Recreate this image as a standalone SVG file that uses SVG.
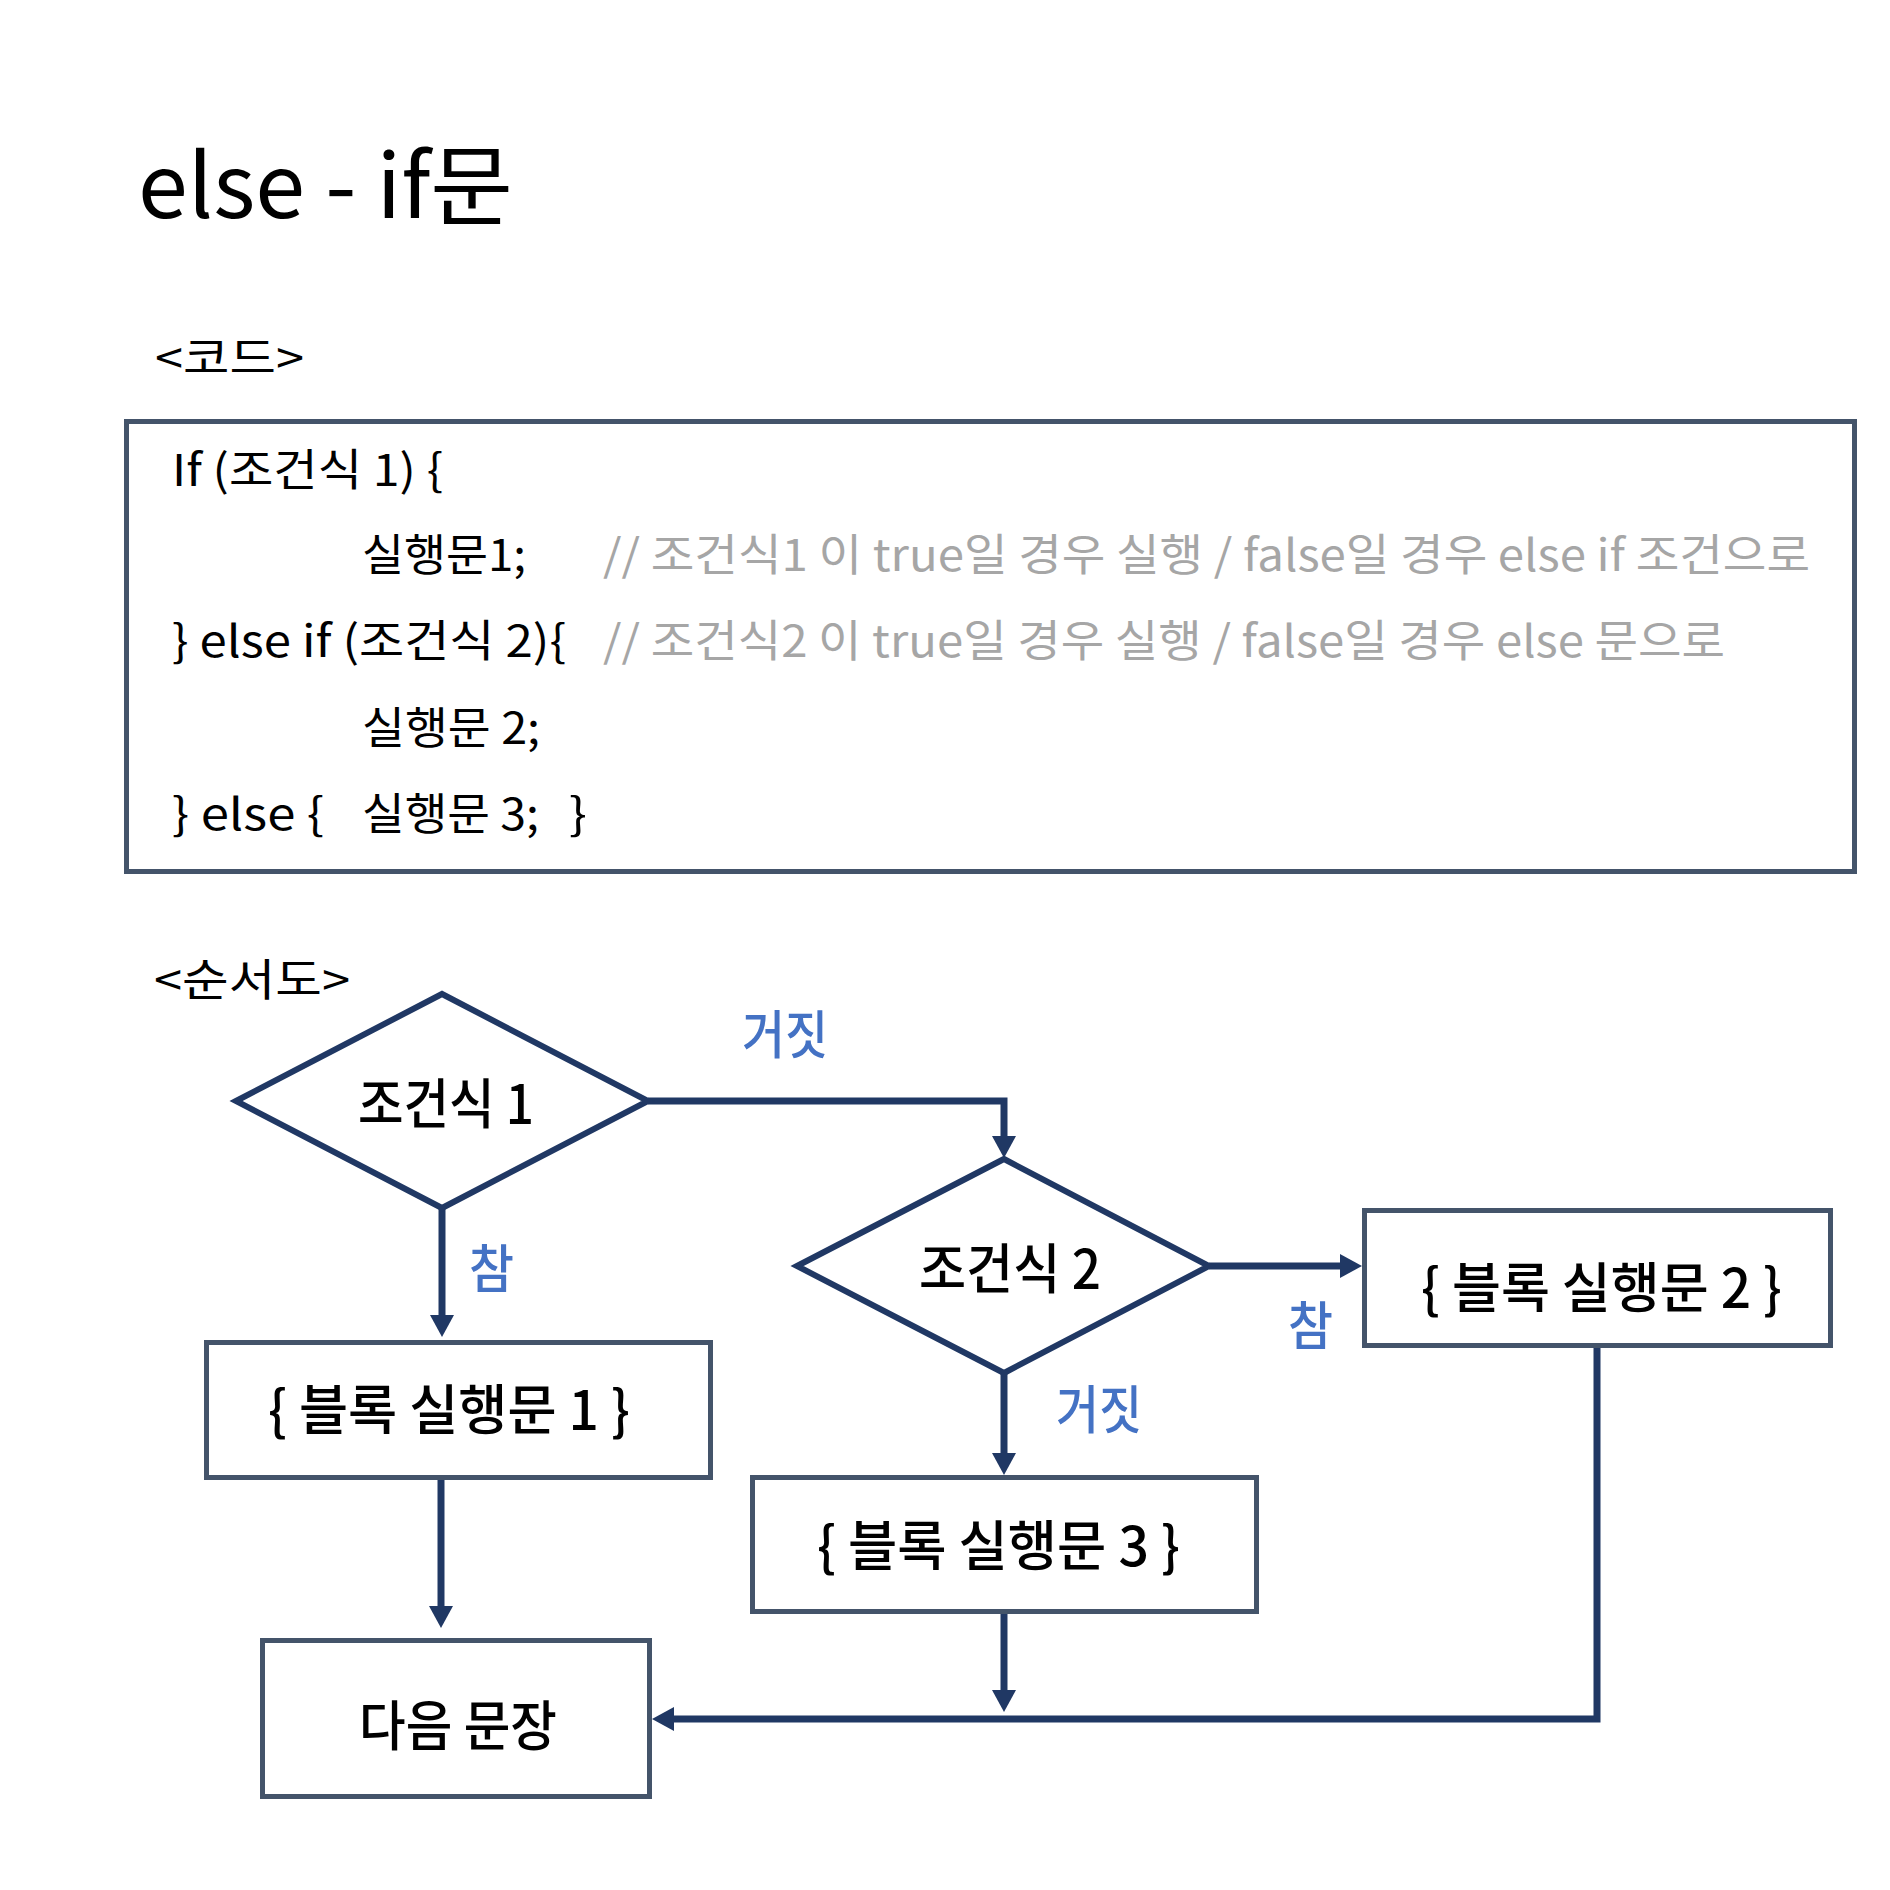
<svg xmlns="http://www.w3.org/2000/svg" width="1890" height="1890" viewBox="0 0 1890 1890">
<style>
text{font-family:"Noto Sans CJK KR","Noto Sans",sans-serif;fill:#000}
.code{font-size:44px}
.cmt{font-size:44px;fill:#A6A6A6}
.flow{font-size:54px;font-weight:500}
.lbl{font-size:52px;fill:#4472C4;font-weight:500}
.box{fill:#fff;stroke:#44546A;stroke-width:5}
.dia{fill:#fff;stroke:#203864;stroke-width:6;stroke-linejoin:miter}
.con{fill:none;stroke:#203864;stroke-width:7;stroke-linejoin:miter}
</style>
<defs>
<marker id="ah" markerUnits="userSpaceOnUse" markerWidth="24" markerHeight="26" refX="0" refY="12" orient="auto">
<path d="M0,0 L22,12 L0,24 z" fill="#203864"/>
</marker>
</defs>
<rect width="1890" height="1890" fill="#fff"/>
<text x="138" y="218" font-size="88" textLength="375" lengthAdjust="spacingAndGlyphs">else - if문</text>
<text x="155" y="374" font-size="44" textLength="149" lengthAdjust="spacingAndGlyphs">&lt;코드&gt;</text>
<g id="code">
<rect class="box" x="126.5" y="421.5" width="1728" height="450"/>
<text class="code" x="172" y="486" textLength="271" lengthAdjust="spacingAndGlyphs">If (조건식 1) {</text>
<text class="code" x="362" y="571" textLength="164" lengthAdjust="spacingAndGlyphs">실행문1;</text>
<text class="cmt" x="603" y="571" textLength="1207" lengthAdjust="spacingAndGlyphs">// 조건식1 이 true일 경우 실행 / false일 경우 else if 조건으로</text>
<text class="code" x="172" y="657" textLength="394" lengthAdjust="spacingAndGlyphs">} else if (조건식 2){</text>
<text class="cmt" x="603" y="657" textLength="1122" lengthAdjust="spacingAndGlyphs">// 조건식2 이 true일 경우 실행 / false일 경우 else 문으로</text>
<text class="code" x="362" y="744" textLength="178" lengthAdjust="spacingAndGlyphs">실행문 2;</text>
<text class="code" x="172" y="830" textLength="152" lengthAdjust="spacingAndGlyphs">} else {</text>
<text class="code" x="362" y="830" textLength="177" lengthAdjust="spacingAndGlyphs">실행문 3;</text>
<text class="code" x="569" y="830" textLength="18" lengthAdjust="spacingAndGlyphs">}</text>
</g>
<text x="154" y="996" font-size="44" textLength="196" lengthAdjust="spacingAndGlyphs">&lt;순서도&gt;</text>
<g id="connectors">
<path class="con" d="M648,1101 H1004 V1136" marker-end="url(#ah)"/>
<path class="con" d="M442,1208 V1315" marker-end="url(#ah)"/>
<path class="con" d="M1209,1266 H1340" marker-end="url(#ah)"/>
<path class="con" d="M1004,1373 V1453" marker-end="url(#ah)"/>
<path class="con" d="M441,1480 V1606" marker-end="url(#ah)"/>
<path class="con" d="M1004,1614 V1690" marker-end="url(#ah)"/>
<path class="con" d="M1597,1348 V1719 H674" marker-end="url(#ah)"/>
<text class="lbl" x="742" y="1054" textLength="86" lengthAdjust="spacingAndGlyphs">거짓</text>
<text class="lbl" x="469" y="1288" textLength="45" lengthAdjust="spacingAndGlyphs">참</text>
<text class="lbl" x="1288" y="1345" textLength="45" lengthAdjust="spacingAndGlyphs">참</text>
<text class="lbl" x="1056" y="1429" textLength="86" lengthAdjust="spacingAndGlyphs">거짓</text>
</g>
<g id="cond1">
<polygon class="dia" points="236,1101 442,994 648,1101 442,1208"/>
<text class="flow" x="358" y="1124" textLength="176" lengthAdjust="spacingAndGlyphs">조건식 1</text>
</g>
<g id="cond2">
<polygon class="dia" points="797,1266 1004,1159 1209,1266 1004,1373"/>
<text class="flow" x="919" y="1289" textLength="182" lengthAdjust="spacingAndGlyphs">조건식 2</text>
</g>
<g id="block1">
<rect class="box" x="206.5" y="1342.5" width="504" height="135"/>
<text class="flow" x="268" y="1430" textLength="362" lengthAdjust="spacingAndGlyphs">{ 블록 실행문 1 }</text>
</g>
<g id="block2">
<rect class="box" x="1364.5" y="1210.5" width="466" height="135"/>
<text class="flow" x="1421" y="1308" textLength="361" lengthAdjust="spacingAndGlyphs">{ 블록 실행문 2 }</text>
</g>
<g id="block3">
<rect class="box" x="752.5" y="1477.5" width="504" height="134"/>
<text class="flow" x="817" y="1566" textLength="363" lengthAdjust="spacingAndGlyphs">{ 블록 실행문 3 }</text>
</g>
<g id="next">
<rect class="box" x="262.5" y="1640.5" width="387" height="156"/>
<text class="flow" x="359" y="1746" textLength="198" lengthAdjust="spacingAndGlyphs">다음 문장</text>
</g>
</svg>
